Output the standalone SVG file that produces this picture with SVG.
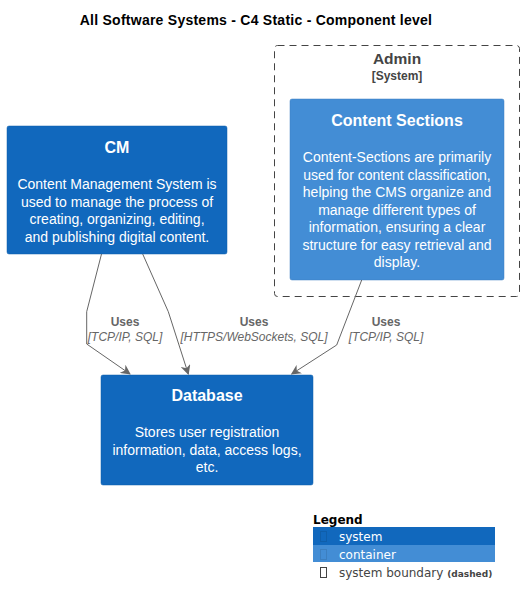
<svg xmlns="http://www.w3.org/2000/svg" width="525" height="605" viewBox="0 0 525 605">
<style>
.t{font-family:"Liberation Sans",Arial,sans-serif;}
.title{font-size:14px;font-weight:bold;fill:#000;letter-spacing:0.25px;}
.nt{font-size:16px;font-weight:bold;fill:#fff;text-anchor:middle;}
.nd{font-size:14px;fill:#fff;text-anchor:middle;}
.lbl{font-size:12px;font-weight:bold;fill:#666;text-anchor:middle;}
.tech{font-size:12px;font-style:italic;fill:#666;text-anchor:middle;}
.conn{fill:none;stroke:#666;stroke-width:1;}
.lg{font-family:"DejaVu Sans",sans-serif;font-size:12px;}
</style>
<defs>
<marker id="arr" viewBox="0 0 10 10" refX="9" refY="5" markerWidth="10" markerHeight="10" markerUnits="userSpaceOnUse" orient="auto">
<path d="M0,0 L10,5 L0,10 L3,5 Z" fill="#666"/>
</marker>
</defs>
<rect width="525" height="605" fill="#fff"/>
<text class="t title" x="256" y="25" text-anchor="middle">All Software Systems - C4 Static - Component level</text>

<g id="admin-boundary">
<rect x="274.5" y="45.5" width="245" height="251" rx="3" fill="none" stroke="#444" stroke-dasharray="7,5"/>
<text class="t" x="397" y="64" text-anchor="middle" font-size="15.5" font-weight="bold" fill="#444">Admin</text>
<text class="t" x="397" y="80" text-anchor="middle" font-size="12" font-weight="bold" fill="#444">[System]</text>
</g>

<g id="content-sections">
<rect x="290" y="99" width="214" height="181" rx="2" fill="#438DD5" stroke="#3C7FC0" stroke-width="0.5"/>
<text class="t nt" x="397" y="126">Content Sections</text>
<text class="t nd" x="397" y="162">Content-Sections are primarily</text>
<text class="t nd" x="397" y="179.5">used for content classification,</text>
<text class="t nd" x="397" y="197">helping the CMS organize and</text>
<text class="t nd" x="397" y="214.5">manage different types of</text>
<text class="t nd" x="397" y="232">information, ensuring a clear</text>
<text class="t nd" x="397" y="249.5">structure for easy retrieval and</text>
<text class="t nd" x="397" y="267">display.</text>
</g>

<g id="cm">
<rect x="7" y="126" width="220" height="128" rx="2" fill="#1168BD" stroke="#0F5EAA" stroke-width="0.5"/>
<text class="t nt" x="117" y="153">CM</text>
<text class="t nd" x="117" y="189">Content Management System is</text>
<text class="t nd" x="117" y="206.5">used to manage the process of</text>
<text class="t nd" x="117" y="224">creating, organizing, editing,</text>
<text class="t nd" x="117" y="241.5">and publishing digital content.</text>
</g>

<g id="database">
<rect x="101" y="375" width="212" height="110" rx="2" fill="#1168BD" stroke="#0F5EAA" stroke-width="0.5"/>
<text class="t nt" x="207" y="401">Database</text>
<text class="t nd" x="207" y="437">Stores user registration</text>
<text class="t nd" x="207" y="454.5">information, data, access logs,</text>
<text class="t nd" x="207" y="472">etc.</text>
</g>

<g id="connectors">
<path class="conn" d="M101.5,254 L86.7,311.7 L86.7,344 L130,374" marker-end="url(#arr)"/>
<path class="conn" d="M142.7,254 L168.3,311.7 L188.3,374" marker-end="url(#arr)"/>
<path class="conn" d="M361.7,280 L336.7,345 L291.7,374" marker-end="url(#arr)"/>
<text class="t lbl" x="125" y="326">Uses</text>
<text class="t tech" x="125" y="341">[TCP/IP, SQL]</text>
<text class="t lbl" x="254" y="326">Uses</text>
<text class="t tech" x="254" y="341">[HTTPS/WebSockets, SQL]</text>
<text class="t lbl" x="386" y="326">Uses</text>
<text class="t tech" x="386" y="341">[TCP/IP, SQL]</text>
</g>

<g id="legend">
<text class="lg" x="313" y="524" font-size="13" font-weight="bold" fill="#000">Legend</text>
<rect x="313" y="527" width="182" height="18" fill="#1168BD"/>
<rect x="320.5" y="531.5" width="6" height="10" fill="none" stroke="#0F5EAA"/>
<text class="lg" x="339" y="541" fill="#fff">system</text>
<rect x="313" y="545" width="182" height="17" fill="#438DD5"/>
<rect x="320.5" y="549.5" width="6" height="10" fill="none" stroke="#3C7FC0"/>
<text class="lg" x="339" y="559" fill="#fff">container</text>
<rect x="320.5" y="567.5" width="6" height="10" fill="none" stroke="#444"/>
<text class="lg" x="339" y="577" fill="#444">system boundary <tspan font-size="9" font-weight="bold">(dashed)</tspan></text>
</g>
</svg>
